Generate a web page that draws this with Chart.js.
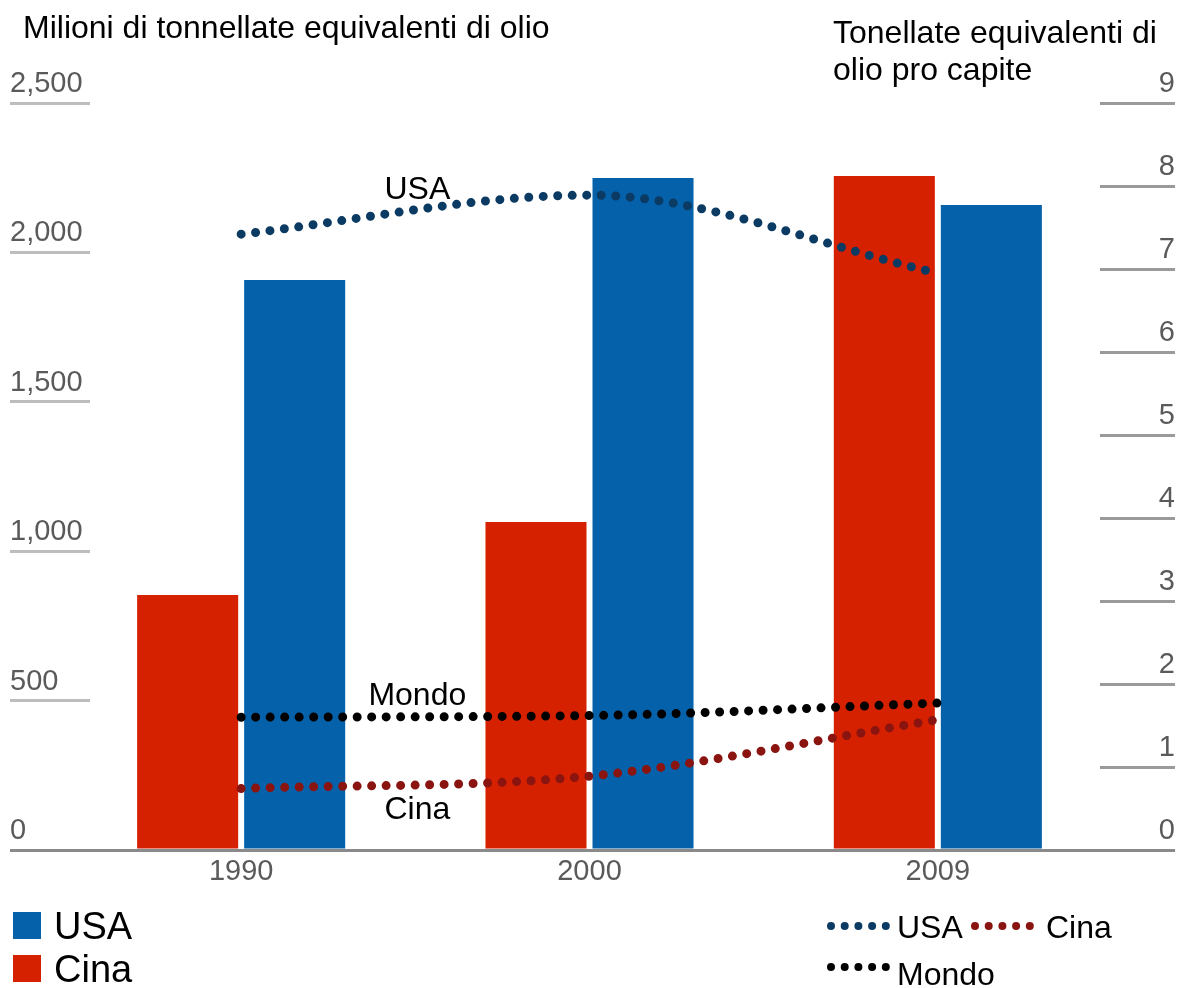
<!DOCTYPE html>
<html>
<head>
<meta charset="utf-8">
<script src="https://cdn.jsdelivr.net/npm/chart.js@4.4.1/dist/chart.umd.min.js"></script>
<style>
  html, body { margin: 0; padding: 0; background: #fff; }
  #wrap { position: relative; width: 1182px; height: 988px; overflow: hidden; font-family: "Liberation Sans", Arial, sans-serif; }
  #c { position: absolute; left: 0; top: 0; }
  .t { position: absolute; white-space: nowrap; color: #000; }
  .t32 { font-size: 32px; line-height: 32px; }
  .t38 { font-size: 38px; line-height: 38px; }
  .sq { position: absolute; width: 28px; height: 27px; }
  svg.dots { position: absolute; overflow: visible; }
</style>
</head>
<body>
<div id="wrap">
  <canvas id="c" width="1182" height="988"></canvas>
  <div class="t t32" style="left:23px; top:11px;">Milioni di tonnellate equivalenti di olio</div>
  <div class="t t32" style="left:833px; top:16px;">Tonellate equivalenti di</div>
  <div class="t t32" style="left:833px; top:53px;">olio pro capite</div>

  <div class="sq" style="left:13px; top:912px; background:#0561a9;"></div>
  <div class="t t38" style="left:54px; top:907px;">USA</div>
  <div class="sq" style="left:13px; top:955px; background:#d62100;"></div>
  <div class="t t38" style="left:54px; top:950px;">Cina</div>

  <svg class="dots" style="left:828px; top:920px;" width="64" height="12"><line x1="3" y1="6" x2="58" y2="6" stroke="#0b3a63" stroke-width="8" stroke-linecap="round" stroke-dasharray="0 13.7"/></svg>
  <div class="t t32" style="left:897px; top:911px;">USA</div>
  <svg class="dots" style="left:972px; top:920px;" width="64" height="12"><line x1="3" y1="6" x2="58" y2="6" stroke="#8a1410" stroke-width="8" stroke-linecap="round" stroke-dasharray="0 13.7"/></svg>
  <div class="t t32" style="left:1046px; top:911px;">Cina</div>
  <svg class="dots" style="left:828px; top:961px;" width="64" height="12"><line x1="3" y1="6" x2="58" y2="6" stroke="#000" stroke-width="8" stroke-linecap="round" stroke-dasharray="0 13.7"/></svg>
  <div class="t t32" style="left:897px; top:958px;">Mondo</div>
</div>
<script>
// ---- data ----
const categories = ['1990', '2000', '2009'];
const cinaConsumo = [853, 1098, 2256];      // milioni di tep
const usaConsumo = [1908, 2249, 2159];      // milioni di tep
const usaProCapite = [7.42, 7.89, 6.95];    // tep pro capite
const cinaProCapite = [0.74, 0.89, 1.57];
const mondoProCapite = [1.60, 1.62, 1.77];
const leftTickValues = [0, 500, 1000, 1500, 2000, 2500];
const rightTickValues = [0, 1, 2, 3, 4, 5, 6, 7, 8, 9];
const lineLabels = ['USA', 'Cina', 'Mondo'];

const FONT = '"Liberation Sans", Arial, sans-serif';

const axisSpan = {
  id: 'axisSpan',
  afterLayout(chart) {
    const y = chart.scales.y, y1 = chart.scales.y1;
    y.left = 10; y.right = 90;
    y1.left = 1100; y1.right = 1175;
  }
};

const seriesLabels = {
  id: 'seriesLabels',
  afterDatasetsDraw(chart) {
    const ctx = chart.ctx, x = chart.scales.x, y1 = chart.scales.y1;
    const xm = (x.getPixelForValue(0) + x.getPixelForValue(1)) / 2;
    const items = [
      {text: lineLabels[0], s: usaProCapite, dy: -27},
      {text: lineLabels[2], s: mondoProCapite, dy: -23},
      {text: lineLabels[1], s: cinaProCapite, dy: 25}
    ];
    ctx.save();
    ctx.font = '32px ' + FONT;
    ctx.fillStyle = '#000';
    ctx.textAlign = 'center';
    ctx.textBaseline = 'alphabetic';
    items.forEach(it => {
      const ym = (y1.getPixelForValue(it.s[0]) + y1.getPixelForValue(it.s[1])) / 2 + it.dy;
      ctx.fillText(it.text, xm + 2, ym + 11.5);
    });
    ctx.restore();
  }
};

const dotted = (data, color) => ({
  type: 'line', label: '', data, yAxisID: 'y1', order: 1,
  borderColor: color, backgroundColor: color, borderWidth: 9,
  borderDash: [0, 14.5], borderCapStyle: 'round', pointRadius: 0,
  cubicInterpolationMode: 'monotone', fill: false
});

new Chart(document.getElementById('c'), {
  type: 'bar',
  data: {
    labels: categories,
    datasets: [
      {label: 'Cina', data: cinaConsumo, backgroundColor: '#d62100', yAxisID: 'y', order: 2,
       categoryPercentage: 0.6145, barPercentage: 0.944},
      {label: 'USA', data: usaConsumo, backgroundColor: '#0561a9', yAxisID: 'y', order: 2,
       categoryPercentage: 0.6145, barPercentage: 0.944},
      dotted(usaProCapite, '#0b3a63'),
      dotted(cinaProCapite, '#8a1410'),
      dotted(mondoProCapite, '#000000')
    ]
  },
  options: {
    responsive: false,
    animation: false,
    devicePixelRatio: 1,
    layout: {padding: {top: 103, left: 10, right: 7, bottom: 0}},
    plugins: {legend: {display: false}, tooltip: {enabled: false}},
    scales: {
      x: {
        offset: true,
        grid: {display: false, drawTicks: false},
        border: {display: true, color: '#8a8a8a', width: 3},
        ticks: {color: '#5a5a5a', font: {family: FONT, size: 29}, padding: 5},
        afterFit(s) { s.height = 138; }
      },
      y: {
        position: 'left', min: 0, max: 2500,
        afterBuildTicks(s) { s.ticks = leftTickValues.map(v => ({value: v})); },
        afterFit(s) { s.width = 57; },
        border: {display: false},
        grid: {drawOnChartArea: false, drawTicks: true, tickLength: 80, lineWidth: 3,
               color: c => c.tick && c.tick.value === 0 ? '#8a8a8a' : '#bdbdbd'},
        ticks: {crossAlign: 'far', labelOffset: -19, padding: 0, color: '#5a5a5a',
                font: {family: FONT, size: 29},
                callback: v => Number(v).toLocaleString('en-US')}
      },
      y1: {
        position: 'right', min: 0, max: 9,
        afterBuildTicks(s) { s.ticks = rightTickValues.map(v => ({value: v})); },
        afterFit(s) { s.width = 63; },
        border: {display: false},
        grid: {drawOnChartArea: false, drawTicks: true, tickLength: 75, lineWidth: 3,
               color: c => c.tick && c.tick.value === 0 ? '#8a8a8a' : '#9a9a9a'},
        ticks: {crossAlign: 'far', labelOffset: -19, padding: 0, color: '#5a5a5a',
                font: {family: FONT, size: 29}}
      }
    }
  },
  plugins: [axisSpan, seriesLabels]
});
</script>
</body>
</html>
